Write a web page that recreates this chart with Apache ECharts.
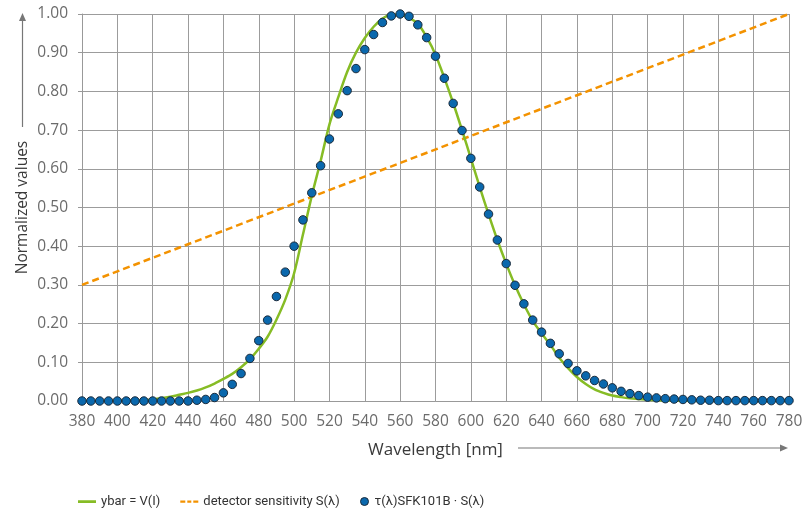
<!DOCTYPE html>
<html>
<head>
<meta charset="utf-8">
<script src="https://cdn.jsdelivr.net/npm/echarts@6/dist/echarts.min.js"></script>
<style>html,body{margin:0;padding:0;background:#fff}#c{width:811px;height:512px}</style>
</head>
<body>
<div id="c"></div>
<script>
// wavelengths [nm], 380..780 step 5
var wavelengths = [380,385,390,395,400,405,410,415,420,425,430,435,440,445,450,455,460,465,470,475,480,485,490,495,500,505,510,515,520,525,530,535,540,545,550,555,560,565,570,575,580,585,590,595,600,605,610,615,620,625,630,635,640,645,650,655,660,665,670,675,680,685,690,695,700,705,710,715,720,725,730,735,740,745,750,755,760,765,770,775,780];
// ybar = V(l)
var vLambda = [0,0,0,0,0.001,0.001,0.001,0.002,0.004,0.007,0.011,0.016,0.021,0.027,0.035,0.045,0.057,0.070,0.087,0.108,0.135,0.166,0.210,0.262,0.330,0.430,0.530,0.620,0.715,0.785,0.850,0.900,0.938,0.967,0.988,0.999,0.998,0.990,0.975,0.940,0.895,0.835,0.770,0.700,0.627,0.553,0.483,0.416,0.355,0.299,0.250,0.207,0.175,0.145,0.112,0.085,0.062,0.044,0.030,0.021,0.014,0.010,0.007,0.005,0.003,0.002,0.001,0.001,0,0,0,0,0,0,0,0,0,0,0,0,0];
// tau(l)SFK101B * S(l) (dots)
var tauS = [0,0,0,0,0,0,0,0,0,0,0,0,0,0.002,0.004,0.009,0.021,0.043,0.071,0.110,0.156,0.209,0.270,0.333,0.400,0.468,0.538,0.608,0.677,0.742,0.802,0.859,0.908,0.947,0.978,0.995,1.000,0.994,0.972,0.939,0.891,0.834,0.769,0.699,0.627,0.553,0.483,0.416,0.355,0.299,0.251,0.209,0.178,0.149,0.122,0.097,0.078,0.065,0.053,0.044,0.034,0.025,0.019,0.014,0.010,0.008,0.006,0.005,0.004,0.003,0.002,0.002,0.001,0.001,0.001,0.001,0.001,0.001,0.001,0.001,0.001];
// detector sensitivity S(l): linear
var detWavelengths = [380, 780];
var detSensitivity = [0.30, 1.00];

var seriesNames = ['ybar = V(I)', 'detector sensitivity S(λ)', 'τ(λ)SFK101B · S(λ)'];

function pairs(xs, ys){ return xs.map(function(x,i){ return [x, ys[i]]; }); }

var FONT = 'Open Sans';
var legendText = {color: '#333', fontSize: 13, fontFamily: 'Roboto'};
var chart = echarts.init(document.getElementById('c'), null, {renderer:'canvas'});
chart.setOption({
  animation: false,
  backgroundColor: '#fff',
  textStyle: {fontFamily: FONT},
  grid: {left: 82, right: 22, top: 14, bottom: 111, containLabel: false},
  xAxis: {
    type: 'value', min: 380, max: 780, interval: 20,
    name: 'Wavelength [nm]', nameLocation: 'middle', nameGap: 41,
    nameTextStyle: {color: '#3a3a3a', fontSize: 17, fontFamily: FONT},
    axisLine: {show: true, lineStyle: {color: '#999', width: 1}},
    axisTick: {show: false},
    axisLabel: {color: '#6b6b6b', fontSize: 15.5, margin: 13, fontFamily: FONT},
    splitLine: {show: true, lineStyle: {color: '#9c9c9c', width: 1}}
  },
  yAxis: {
    type: 'value', min: 0, max: 1, interval: 0.1,
    name: 'Normalized values', nameLocation: 'middle', nameGap: 51, nameRotate: 90,
    nameMoveOverlap: false,
    nameTextStyle: {color: '#3a3a3a', fontSize: 15.5, fontFamily: FONT},
    axisLine: {show: true, lineStyle: {color: '#999', width: 1}},
    axisTick: {show: true, length: 4, inside: false, lineStyle: {color: '#999'}},
    axisLabel: {color: '#6b6b6b', fontSize: 15.5, margin: 14, fontFamily: FONT,
      formatter: function(v){ return v.toFixed(2); }},
    splitLine: {show: true, lineStyle: {color: '#9c9c9c', width: 1}}
  },
  legend: [
    {
      left: 73, top: 490, itemWidth: 18, itemHeight: 8, itemGap: 20,
      textStyle: legendText,
      data: [
        {name: seriesNames[0], icon: 'path://M0,0h0.01v8h-0.01z M0,2.8h18v2.6h-18z', itemStyle: {color: '#86bc25'}},
        {name: seriesNames[1], icon: 'path://M0,0h0.01v8h-0.01z M0,3h5v2.2h-5z M7,3h4v2.2h-4z M13,3h5v2.2h-5z', itemStyle: {color: '#f39200'}}
      ]
    },
    {
      left: 355, top: 490, itemWidth: 10, itemHeight: 8, itemGap: 20,
      textStyle: legendText,
      data: [
        {name: seriesNames[2], icon: 'circle', itemStyle: {color: '#0a68ad', borderColor: '#1b2b3b', borderWidth: 1}}
      ]
    }
  ],
  series: [
    {
      name: seriesNames[0], type: 'line', data: pairs(wavelengths, vLambda),
      showSymbol: false, symbol: 'none', smooth: 0.3, z: 3,
      lineStyle: {color: '#86bc25', width: 2.5}, itemStyle: {color: '#86bc25'}
    },
    {
      name: seriesNames[1], type: 'line', data: pairs(detWavelengths, detSensitivity),
      showSymbol: false, symbol: 'none', z: 2,
      lineStyle: {color: '#f39200', width: 2.5, type: [7, 4]}, itemStyle: {color: '#f39200'}
    },
    {
      name: seriesNames[2], type: 'scatter', data: pairs(wavelengths, tauS),
      symbol: 'circle', symbolSize: 8.5, z: 4,
      itemStyle: {color: '#0a68ad', borderColor: '#1b2b3b', borderWidth: 1, opacity: 1}
    }
  ],
  graphic: [
    {type: 'line', shape: {x1: 22.5, y1: 127, x2: 22.5, y2: 20}, style: {stroke: '#777', lineWidth: 1.2}, silent: true},
    {type: 'polygon', shape: {points: [[22.5, 13], [19, 21], [26, 21]]}, style: {fill: '#777'}, silent: true},
    {type: 'line', shape: {x1: 518, y1: 448, x2: 781, y2: 448}, style: {stroke: '#777', lineWidth: 1.2}, silent: true},
    {type: 'polygon', shape: {points: [[788, 448], [780, 444.5], [780, 451.5]]}, style: {fill: '#777'}, silent: true}
  ]
});
</script>
</body>
</html>
